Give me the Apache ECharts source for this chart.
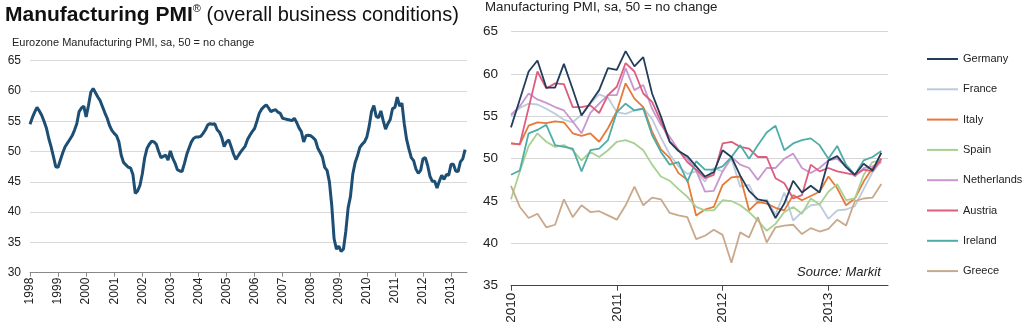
<!DOCTYPE html>
<html lang="en">
<head>
<meta charset="UTF-8">
<title>Manufacturing PMI</title>
<style>
    html, body { margin: 0; padding: 0; background: #fff; }
    #chart { width: 1024px; height: 327px; }
</style>
</head>
<body>
<div id="chart"></div>
<script src="https://cdn.jsdelivr.net/npm/echarts@6.0.0/dist/echarts.min.js"></script>
<script>
    // Eurozone manufacturing PMI, monthly, Jan 1998 - Jul 2013
    var ezStart = 1998;
    var eurozone = [
        54.5, 55.6, 56.5, 57.3, 56.7, 56.0, 55.0, 53.9, 52.2, 50.8, 49.2, 47.5,
        47.4, 48.6, 49.8, 50.8, 51.4, 52.0, 52.6, 53.5, 54.6, 56.6, 57.2, 57.5,
        55.7, 57.6, 59.8, 60.4, 59.7, 59.0, 58.4, 57.4, 56.4, 55.5, 54.3, 53.5,
        53.0, 52.6, 51.6, 49.4, 48.2, 47.8, 47.4, 47.3, 46.2, 43.1, 43.5, 44.4,
        46.3, 48.9, 50.5, 51.2, 51.7, 51.6, 51.2, 50.0, 49.0, 49.2, 49.4, 48.6,
        50.1, 48.9, 48.1, 47.0, 46.8, 46.7, 48.0, 49.5, 50.6, 51.6, 52.2, 52.4,
        52.4, 52.5, 53.0, 53.6, 54.4, 54.6, 54.5, 54.6, 53.6, 53.2, 52.3, 50.8,
        51.6, 51.9, 50.8, 49.6, 48.7, 49.3, 49.9, 50.4, 50.9, 52.0, 52.7, 53.3,
        53.8, 55.0, 56.3, 57.0, 57.4, 57.7, 57.2, 56.6, 56.8, 56.9, 56.5, 56.3,
        55.5, 55.4, 55.3, 55.2, 55.1, 55.5, 54.8, 53.9, 53.3, 51.6, 52.6, 52.7,
        52.6, 52.3, 51.9, 50.6, 49.9, 49.1, 47.4, 46.9, 45.0, 41.1, 35.6, 33.9,
        34.4, 33.5, 33.9, 36.8, 40.7, 42.6, 46.3, 48.2, 49.3, 50.7, 51.2, 51.6,
        52.4, 54.2, 56.6, 57.6, 55.8, 55.6, 56.7, 55.1, 53.7, 54.6, 55.3, 57.1,
        57.3, 59.0, 57.5, 58.0, 54.6, 52.0, 50.4, 49.0, 48.5, 47.1, 46.4, 46.9,
        48.8, 49.0, 47.7, 45.9, 45.1, 45.1, 44.0, 45.1, 46.1, 45.4, 46.2, 46.1,
        47.9, 47.9, 46.8, 46.7, 48.3, 48.8, 50.3
    ];
    var ezYears = [1998, 1999, 2000, 2001, 2002, 2003, 2004, 2005, 2006, 2007, 2008, 2009, 2010, 2011, 2012, 2013];

    // national manufacturing PMIs, monthly, Jan 2010 - Jul 2013
    var ctyStart = 2010;
    var ctyYears = [2010, 2011, 2012, 2013];
    var countries = ['Germany', 'France', 'Italy', 'Spain', 'Netherlands', 'Austria', 'Ireland', 'Greece'];

    var germany = [
        53.7, 57.0, 60.3, 61.6, 58.4, 58.4, 61.2, 58.2, 55.1, 56.6, 58.1, 60.7,
        60.5, 62.7, 60.9, 62.0, 57.7, 55.0, 52.0, 50.9, 50.3, 49.1, 47.9, 48.4,
        51.0, 50.2, 48.0, 46.2, 45.2, 45.0, 43.0, 44.7, 47.4, 46.0, 46.8, 46.0,
        49.8, 50.3, 49.0, 48.1, 49.4, 48.6, 50.7
    ];
    var france = [
        55.0, 56.0, 56.5, 56.4, 55.9, 55.3, 54.6, 54.3, 55.2, 56.5, 57.6, 57.2,
        55.5, 55.3, 55.7, 56.0, 54.7, 52.5, 50.5, 49.1, 48.2, 48.5, 47.3, 48.9,
        48.5, 50.0, 46.7, 46.9, 44.7, 45.2, 43.4, 46.0, 42.7, 43.7, 44.5, 44.6,
        42.9, 43.9, 44.0, 44.4, 46.4, 48.4, 49.7
    ];
    var italy = [
        51.8, 51.7, 53.9, 54.3, 54.2, 54.4, 54.3, 53.0, 52.7, 53.0, 52.0, 53.6,
        55.6, 58.9, 57.1, 56.1, 53.2, 51.1, 50.1, 48.3, 47.5, 43.3, 44.0, 44.3,
        46.9, 47.8, 47.9, 43.9, 44.9, 44.7, 44.2, 43.9, 45.7, 45.1, 45.6, 46.1,
        47.9, 46.5, 44.5, 45.3, 47.3, 48.9, 50.0
    ];
    var spain = [
        45.2, 48.5, 51.5, 53.0, 52.0, 51.4, 51.6, 51.0, 49.8, 50.8, 50.2, 51.0,
        52.0, 52.2, 51.8, 51.0, 49.3, 47.9, 47.4, 46.4, 45.5, 44.3, 43.9, 43.9,
        45.1, 45.0, 44.5, 43.7, 42.7, 41.5, 42.3, 43.7, 44.3, 43.5, 45.3, 44.6,
        46.1, 47.0, 45.1, 45.3, 48.1, 49.6, 49.8
    ];
    var netherlands = [
        55.2, 56.2, 57.7, 57.0, 56.6, 56.1, 55.7, 54.4, 53.0, 55.4, 56.5, 57.5,
        57.5, 60.7, 58.1, 58.7, 55.9, 54.0, 52.6, 51.0, 50.0, 48.6, 46.1, 46.2,
        48.5, 50.2, 49.3, 48.9, 47.5, 48.9, 48.9, 50.0, 50.6, 48.9, 48.3, 48.9,
        49.8, 50.0, 49.1, 47.9, 48.9, 49.1, 49.6
    ];
    var austria = [
        51.8, 51.7, 56.0, 60.3, 58.3, 58.9, 58.8, 56.1, 56.1, 56.3, 55.4, 57.5,
        58.5, 61.3, 60.3, 57.7, 56.7, 54.4, 52.0, 51.0, 49.6, 48.7, 47.7, 48.1,
        51.8, 52.0, 51.4, 51.2, 50.2, 50.2, 47.7, 47.1, 45.3, 45.7, 49.3, 48.5,
        48.9, 48.5, 48.3, 48.1, 48.7, 48.5, 50.0
    ];
    var ireland = [
        48.1, 48.6, 53.0, 53.4, 54.0, 51.6, 51.4, 51.2, 48.5, 51.0, 51.2, 52.2,
        55.5, 56.5, 55.7, 55.9, 52.8, 50.8, 49.3, 49.6, 47.3, 49.7, 48.7, 48.7,
        49.1, 50.2, 51.6, 50.0, 51.6, 53.1, 53.9, 51.0, 51.8, 52.2, 52.4, 51.6,
        50.0, 51.5, 49.3, 48.1, 49.8, 50.2, 50.9
    ];
    var greece = [
        46.8, 44.3, 43.0, 43.5, 41.9, 42.2, 45.2, 43.1, 44.5, 43.7, 43.8, 43.3,
        42.8, 44.5, 46.7, 44.5, 45.4, 45.2, 43.6, 43.3, 43.1, 40.5, 40.9, 41.6,
        41.0, 37.7, 41.3, 40.7, 43.1, 40.1, 41.9, 42.1, 42.2, 41.1, 41.8, 41.4,
        41.7, 42.8, 42.1, 45.0, 45.3, 45.4, 47.0
    ];

    var ctyData = [germany, france, italy, spain, netherlands, austria, ireland, greece];
    var ctyColors = ['#213d5a', '#bccbdc', '#e5793a', '#a8d092', '#c897cf', '#dd5d7f', '#4fada7', '#c9a98b'];

    var FONT = '"Liberation Sans", Arial, sans-serif';

    function monthly (values, start) {
        var res = [];
        for (var i = 0; i < values.length; i++) {
            res.push([start + i / 12, values[i]]);
        }
        return res;
    }

    function yearLabel (v) {
        return String(Math.round(v));
    }

    var series = [{
        type: 'line',
        xAxisIndex: 0,
        yAxisIndex: 0,
        data: monthly(eurozone, ezStart),
        symbol: 'none',
        lineStyle: {color: '#1d4e73', width: 3},
        z: 3
    }];
    for (var k = 0; k < countries.length; k++) {
        series.push({
            name: countries[k],
            type: 'line',
            xAxisIndex: 1,
            yAxisIndex: 1,
            data: monthly(ctyData[k], ctyStart),
            symbol: 'none',
            color: ctyColors[k],
            lineStyle: {color: ctyColors[k], width: 1.8},
            z: k === 0 ? 10 : 3
        });
    }

    var option = {
        animation: false,
        backgroundColor: '#fff',
        textStyle: {fontFamily: FONT},
        title: [
            {
                left: 5, top: 3, padding: 0,
                text: '{b|Manufacturing PMI}{s|®}{r| (overall business conditions)}',
                textStyle: {
                    fontWeight: 'normal',
                    rich: {
                        b: {fontFamily: FONT, fontSize: 21, fontWeight: 'bold', color: '#111', lineHeight: 24},
                        s: {fontFamily: FONT, fontSize: 11, fontWeight: 'normal', color: '#111', verticalAlign: 'top', lineHeight: 24},
                        r: {fontFamily: FONT, fontSize: 20, fontWeight: 'normal', color: '#111', lineHeight: 24}
                    }
                }
            },
            {
                left: 12, top: 37, padding: 0,
                text: 'Eurozone Manufacturing PMI, sa, 50 = no change',
                textStyle: {fontFamily: FONT, fontSize: 11, fontWeight: 'normal', color: '#222'}
            },
            {
                left: 485, top: 1, padding: 0,
                text: 'Manufacturing PMI, sa, 50 = no change',
                textStyle: {fontFamily: FONT, fontSize: 13.3, fontWeight: 'normal', color: '#222'}
            },
            {
                left: 797, top: 266, padding: 0,
                text: 'Source: Markit',
                textStyle: {fontFamily: FONT, fontSize: 13, fontStyle: 'italic', fontWeight: 'normal', color: '#222'}
            }
        ],
        legend: {
            orient: 'vertical',
            left: 922, top: 47,
            icon: 'rect',
            itemWidth: 31, itemHeight: 2, itemGap: 16.3,
            data: countries,
            textStyle: {fontFamily: FONT, fontSize: 11, color: '#222', lineHeight: 14, height: 14}
        },
        grid: [
            {left: 30, top: 60.7, width: 437, height: 212, outerBoundsMode: 'none'},
            {left: 511, top: 31.7, width: 377, height: 254, outerBoundsMode: 'none'}
        ],
        xAxis: [
            {
                type: 'value', gridIndex: 0,
                min: ezStart, max: ezStart + 437 / 28.07,
                axisLine: {show: true, lineStyle: {color: '#888', width: 1}},
                axisTick: {show: true, length: 4, customValues: ezYears, lineStyle: {color: '#888'}},
                axisLabel: {customValues: ezYears, formatter: yearLabel, rotate: 90, margin: 5, fontSize: 12, color: '#222'},
                splitLine: {show: false}
            },
            {
                type: 'value', gridIndex: 1,
                min: ctyStart, max: ctyStart + 377 / 105.8,
                axisLine: {show: true, lineStyle: {color: '#444', width: 1}},
                axisTick: {show: true, length: 5, customValues: ctyYears, lineStyle: {color: '#444'}},
                axisLabel: {customValues: ctyYears, formatter: yearLabel, rotate: 90, margin: 7, fontSize: 13.5, color: '#222'},
                splitLine: {show: false}
            }
        ],
        yAxis: [
            {
                type: 'value', gridIndex: 0,
                min: 30, max: 65, interval: 5,
                axisLine: {show: false}, axisTick: {show: false},
                axisLabel: {margin: 9, fontSize: 12, color: '#222'},
                splitLine: {lineStyle: {color: '#d9d9d9', width: 1}}
            },
            {
                type: 'value', gridIndex: 1,
                min: 35, max: 65, interval: 5,
                axisLine: {show: false}, axisTick: {show: false},
                axisLabel: {margin: 13, fontSize: 13.5, color: '#222'},
                splitLine: {lineStyle: {color: '#d6d6d6', width: 1}}
            }
        ],
        series: series
    };

    var chart = echarts.init(document.getElementById('chart'));
    chart.setOption(option);
</script>
</body>
</html>
